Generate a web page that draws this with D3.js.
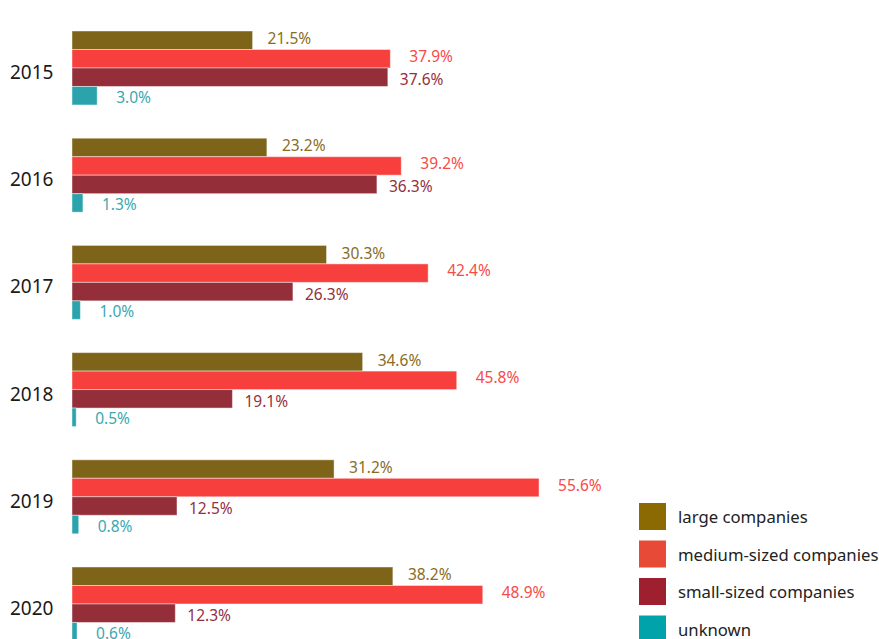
<!DOCTYPE html>
<html>
<head>
<meta charset="utf-8">
<script src="https://cdn.jsdelivr.net/npm/d3@7"></script>
<style>
  body { margin: 0; background: #fff; }
  text { font-family: "Noto Sans", "Open Sans", sans-serif; }
</style>
</head>
<body>
<div id="chart"></div>
<script>
// data
const years = ["2015", "2016", "2017", "2018", "2019", "2020"];
const series = ["large companies", "medium-sized companies", "small-sized companies", "unknown"];
const large = [21.5, 23.2, 30.3, 34.6, 31.2, 38.2];
const medium = [37.9, 39.2, 42.4, 45.8, 55.6, 48.9];
const small = [37.6, 36.3, 26.3, 19.1, 12.5, 12.3];
const unknown = [3.0, 1.3, 1.0, 0.5, 0.8, 0.6];

const barColors = ["#7e6419", "#f7403d", "#942f3a", "#2aa3ad"];
const legendColors = ["#8b6a04", "#e84a38", "#9e1f2e", "#00a3aa"];
const labelColors = ["#8a6d1f", "#f84a4a", "#943040", "#3aa8b0"];

const values = [large, medium, small, unknown];

const width = 879, height = 639;

const svg = d3.select("#chart").append("svg")
    .attr("width", width)
    .attr("height", height);

// scales
const step = 107.2;
const inner = 0.31;
const y0 = d3.scaleBand()
    .domain(years)
    .range([31, 31 + (years.length - inner) * step])
    .paddingInner(inner)
    .paddingOuter(0);

const y1 = d3.scaleBand()
    .domain(series)
    .range([0, y0.bandwidth()]);

const x = d3.scaleLinear()
    .domain([0, 60])
    .range([72, 72 + 504]);

// rows of data
const rows = years.map((yr, i) => ({
    year: yr,
    vals: series.map((s, j) => ({ key: s, idx: j, value: values[j][i] }))
}));

const groups = svg.selectAll("g.year")
    .data(rows)
    .enter()
    .append("g")
    .attr("class", "year")
    .attr("transform", d => `translate(0, ${y0(d.year)})`);

groups.selectAll("rect")
    .data(d => d.vals)
    .enter()
    .append("rect")
    .attr("x", x(0))
    .attr("y", d => y1(d.key))
    .attr("width", d => x(d.value) - x(0))
    .attr("height", y1.bandwidth())
    .attr("fill", d => barColors[d.idx])
    .attr("stroke", "#fff")
    .attr("stroke-opacity", 0.45)
    .attr("stroke-width", 1);

// value labels
const labelDx = [15, 19, 12, 19];
const labelDy = [-2, -3, 2, 1];
groups.selectAll("text.val")
    .data(d => d.vals)
    .enter()
    .append("text")
    .attr("class", "val")
    .attr("x", d => x(d.value) + labelDx[d.idx])
    .attr("y", d => y1(d.key) + y1.bandwidth() / 2 + labelDy[d.idx])
    .attr("dominant-baseline", "central")
    .attr("font-size", 15.5)
    .attr("fill", d => labelColors[d.idx])
    .text(d => d.value.toFixed(1) + "%");

// year labels
groups.append("text")
    .attr("x", 10)
    .attr("y", y0.bandwidth() / 2 + 4)
    .attr("dominant-baseline", "central")
    .attr("font-size", 19)
    .attr("fill", "#1a1a1a")
    .text(d => d.year);

// legend
const legend = svg.append("g")
    .attr("transform", "translate(639, 503)");

const leg = legend.selectAll("g")
    .data(series)
    .enter()
    .append("g")
    .attr("transform", (d, i) => `translate(0, ${i * 37.5})`);

leg.append("rect")
    .attr("width", 27)
    .attr("height", 27)
    .attr("fill", (d, i) => legendColors[i]);

leg.append("text")
    .attr("x", 39)
    .attr("y", 13.5)
    .attr("dominant-baseline", "central")
    .attr("font-size", 16.7)
    .attr("fill", "#222")
    .text(d => d);
</script>
</body>
</html>
